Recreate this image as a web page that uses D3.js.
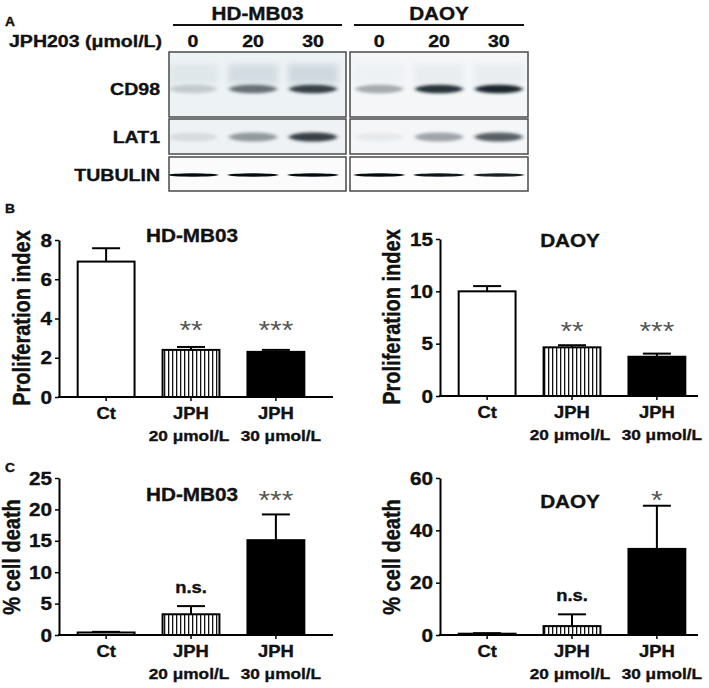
<!DOCTYPE html>
<html><head><meta charset="utf-8">
<script src="https://cdn.jsdelivr.net/npm/d3@7"></script>
<style>
body{margin:0;background:#fff}
text{font-family:"Liberation Sans",Arial,Helvetica,sans-serif;font-weight:bold;fill:#111;stroke:#111;stroke-width:0.35px}
</style>
</head><body>
<svg id="chart" width="709" height="688"></svg>
<script>
// ---------- DATA ----------
const blotLanes = ["0", "20", "30"];
const blotProteins = ["CD98", "LAT1", "TUBULIN"];
const blotCellLines = ["HD-MB03", "DAOY"];
// band intensities (0..1) per lane
const hdCD98 = [0.18, 0.62, 0.85];
const hdCD98Upper = [0.10, 0.20, 0.24];
const hdLAT1 = [0.10, 0.42, 0.85];
const hdTUBULIN = [1.0, 1.0, 1.0];
const daoyCD98 = [0.35, 0.92, 0.98];
const daoyCD98Upper = [0.04, 0.08, 0.08];
const daoyLAT1 = [0.05, 0.38, 0.70];
const daoyTUBULIN = [1.0, 0.95, 0.9];

const barGroups = ["Ct", "JPH 20 μmol/L", "JPH 30 μmol/L"];
const barNames = ["Ct", "JPH", "JPH"];
const barDoses = ["", "20 μmol/L", "30 μmol/L"];

const prolifHD = [6.9, 2.4, 2.3];
const prolifHDErr = [0.68, 0.15, 0.1];
const prolifDAOY = [10.0, 4.65, 3.75];
const prolifDAOYErr = [0.5, 0.2, 0.3];
const deathHD = [0.4, 3.3, 15.1];
const deathHDErr = [0.1, 1.3, 4.1];
const deathDAOY = [0.5, 3.4, 32.9];
const deathDAOYErr = [0.2, 4.5, 16.5];

const sigProlifHD = ["", "**", "***"];
const sigProlifDAOY = ["", "**", "***"];
const sigDeathHD = ["", "n.s.", "***"];
const sigDeathDAOY = ["", "n.s.", "*"];

const ticksProlifHD = [0, 2, 4, 6, 8];
const ticksProlifDAOY = [0, 5, 10, 15];
const ticksDeathHD = [0, 5, 10, 15, 20, 25];
const ticksDeathDAOY = [0, 20, 40, 60];

// ---------- SETUP ----------
const SX = 1.15; // horizontal stretch of the original figure's lettering
const svg = d3.select("#chart");
const defs = svg.append("defs");
defs.append("filter").attr("id", "blurBand").attr("x", "-50%").attr("y", "-200%").attr("width", "200%").attr("height", "500%")
  .append("feGaussianBlur").attr("stdDeviation", "2.2 1.6");
defs.append("filter").attr("id", "blurSmear").attr("x", "-50%").attr("y", "-100%").attr("width", "200%").attr("height", "300%")
  .append("feGaussianBlur").attr("stdDeviation", "3 3");
defs.append("filter").attr("id", "blurThin").attr("x", "-50%").attr("y", "-300%").attr("width", "200%").attr("height", "700%")
  .append("feGaussianBlur").attr("stdDeviation", "1.2 0.6");
const hatch = defs.append("pattern").attr("id", "hatch").attr("patternUnits", "userSpaceOnUse")
  .attr("width", 4).attr("height", 10);
hatch.append("rect").attr("width", 4).attr("height", 10).attr("fill", "#fff");
hatch.append("rect").attr("x", 0).attr("width", 1.3).attr("height", 10).attr("fill", "#111");

function T(sel, x, y, s, size, anchor = "middle") {
  return sel.append("text")
    .attr("transform", `translate(${x},${y}) scale(${SX},1)`)
    .attr("text-anchor", anchor).attr("font-size", size).text(s);
}

// ---------- PANEL A : western blots ----------
const gA = svg.append("g");
T(gA, 5, 26, "A", 12, "start");
T(gA, 162, 47, "JPH203 (μmol/L)", 17, "end");

const rowTop = d3.scaleOrdinal(blotProteins, [52, 119, 157]);
const rowBot = d3.scaleOrdinal(blotProteins, [117, 154, 191]);
const bandY = d3.scaleOrdinal(blotProteins, [89, 137, 175]);
const bandRy = d3.scaleOrdinal(blotProteins, [4.2, 4.5, 1.7]);
const rowBg = d3.scaleOrdinal(blotProteins, ["#edf2f5", "#eef2f4", "#fbfbfb"]);

const groups = [
  {name: "HD-MB03", box: [169, 346], lanes: [169, 337], data: {CD98: hdCD98, LAT1: hdLAT1, TUBULIN: hdTUBULIN}, upper: hdCD98Upper},
  {name: "DAOY", box: [350, 528], lanes: [350, 528], data: {CD98: daoyCD98, LAT1: daoyLAT1, TUBULIN: daoyTUBULIN}, upper: daoyCD98Upper}
];
groups.forEach((grp, gi) => {
  const x = d3.scalePoint().domain(blotLanes).range(grp.lanes).padding(gi === 0 ? 0.4 : 0.49);
  const cx = (grp.box[0] + grp.box[1]) / 2;
  T(gA, cx, 20, blotCellLines[gi], 18);
  gA.append("line").attr("x1", grp.box[0] + 4).attr("x2", grp.box[1] - 4)
    .attr("y1", 25).attr("y2", 25).attr("stroke", "#111").attr("stroke-width", 2);
  blotLanes.forEach(l => T(gA, x(l), 47, l, 17));
  blotProteins.forEach(p => {
    const clip = "clip-" + gi + "-" + p;
    defs.append("clipPath").attr("id", clip).append("rect")
      .attr("x", grp.box[0]).attr("y", rowTop(p)).attr("width", grp.box[1] - grp.box[0]).attr("height", rowBot(p) - rowTop(p));
    const cg = gA.append("g").attr("clip-path", `url(#${clip})`);
    cg.append("rect").attr("x", grp.box[0]).attr("y", rowTop(p))
      .attr("width", grp.box[1] - grp.box[0]).attr("height", rowBot(p) - rowTop(p))
      .attr("fill", gi === 0 ? rowBg(p) : (p === "TUBULIN" ? "#fdfdfd" : "#f4f6f8"));
    if (p === "CD98") {
      cg.selectAll(null).data(grp.upper).join("rect")
        .attr("x", (d, i) => x(blotLanes[i]) - 25).attr("width", 50)
        .attr("y", rowTop(p) + 12).attr("height", 20)
        .attr("fill", "#6f8a99").attr("opacity", d => d).attr("filter", "url(#blurSmear)");
    }
    cg.selectAll(null).data(grp.data[p]).join("ellipse")
      .attr("cx", (d, i) => x(blotLanes[i]))
      .attr("cy", bandY(p))
      .attr("rx", p === "TUBULIN" ? 25 : 24)
      .attr("ry", bandRy(p))
      .attr("fill", p === "TUBULIN" ? "#050a0d" : "#14232b")
      .attr("opacity", d => d)
      .attr("filter", p === "TUBULIN" ? "url(#blurThin)" : "url(#blurBand)");
    gA.append("rect").attr("x", grp.box[0]).attr("y", rowTop(p))
      .attr("width", grp.box[1] - grp.box[0]).attr("height", rowBot(p) - rowTop(p))
      .attr("fill", "none").attr("stroke", "#4a4a4a").attr("stroke-width", 1.5);
  });
});
blotProteins.forEach(p => T(gA, 160, bandY(p) + 6, p, 17, "end"));

// ---------- BAR PANELS ----------
function barPanel(cfg) {
  const g = svg.append("g");
  const y = d3.scaleLinear().domain([0, d3.max(cfg.ticks)]).range([cfg.y0, cfg.y1]);
  const x = d3.scaleBand().domain(barGroups).range([cfg.x0, cfg.x0 + 264])
    .paddingInner(0.33).paddingOuter(0.22);
  const fills = ["#fff", "url(#hatch)", "#000"];

  // bars
  g.selectAll(null).data(cfg.values).join("rect")
    .attr("x", (d, i) => x(barGroups[i]))
    .attr("y", d => y(d))
    .attr("width", x.bandwidth())
    .attr("height", d => y(0) - y(d))
    .attr("fill", (d, i) => fills[i])
    .attr("stroke", "#000").attr("stroke-width", 2);
  // error bars (upward)
  const cap = 14;
  cfg.values.forEach((v, i) => {
    const cx = x(barGroups[i]) + x.bandwidth() / 2;
    g.append("line").attr("x1", cx).attr("x2", cx).attr("y1", y(v)).attr("y2", y(v + cfg.errs[i]))
      .attr("stroke", "#000").attr("stroke-width", 2);
    g.append("line").attr("x1", cx - cap).attr("x2", cx + cap).attr("y1", y(v + cfg.errs[i])).attr("y2", y(v + cfg.errs[i]))
      .attr("stroke", "#000").attr("stroke-width", 2);
  });

  // y axis
  const ay = g.append("g").attr("transform", `translate(${cfg.x0},0)`)
    .call(d3.axisLeft(y).tickValues(cfg.ticks).tickSize(4).tickSizeOuter(0).tickPadding(3));
  ay.select(".domain").attr("stroke-width", 2).attr("stroke", "#000");
  ay.selectAll(".tick line").attr("stroke-width", 1.5).attr("stroke", "#000");
  ay.selectAll(".tick text").remove();
  cfg.ticks.forEach(t => T(g, cfg.x0 - 7, y(t) + 6.5, String(t), 18, "end"));

  // x axis
  g.append("line").attr("x1", cfg.x0 - 1).attr("x2", cfg.x0 + cfg.axisLen).attr("y1", y(0)).attr("y2", y(0))
    .attr("stroke", "#000").attr("stroke-width", 2);
  barGroups.forEach((b, i) => {
    const cx = x(b) + x.bandwidth() / 2;
    g.append("line").attr("x1", cx).attr("x2", cx).attr("y1", y(0)).attr("y2", y(0) + 4)
      .attr("stroke", "#000").attr("stroke-width", 1.5);
    T(g, cx, y(0) + 22, barNames[i], 16);
    if (barDoses[i]) T(g, cx + (i === 1 ? -2 : 5), y(0) + 44, barDoses[i], 15);
  });

  // significance
  cfg.sigs.forEach((s, i) => {
    if (!s) return;
    const cx = x(barGroups[i]) + x.bandwidth() / 2;
    if (s === "n.s.") {
      T(g, cx, y(cfg.values[i] + cfg.errs[i]) - 13, s, 16);
    } else {
      T(g, cx, cfg.starY + 12, s, 26).style("fill", "#555").style("stroke", "none").style("font-weight", "normal");
    }
  });

  // titles
  T(g, cfg.titleX, cfg.titleY, cfg.title, 18);
  g.append("text")
    .attr("transform", `translate(${cfg.labelX},${cfg.labelY}) rotate(-90) scale(1,${SX})`)
    .attr("text-anchor", "middle").attr("dy", "0.36em").attr("font-size", 20).text(cfg.ylabel);
  if (cfg.letter) T(g, cfg.letterX, cfg.letterY, cfg.letter, 12, "start");
}

barPanel({x0: 59, axisLen: 274, y0: 397, y1: 240, values: prolifHD, errs: prolifHDErr, sigs: sigProlifHD,
  ticks: ticksProlifHD, starY: 327, title: "HD-MB03", titleX: 192, titleY: 242,
  ylabel: "Proliferation index", labelX: 22, labelY: 318, letter: "B", letterX: 5, letterY: 213});
barPanel({x0: 440, axisLen: 258, y0: 396, y1: 239, values: prolifDAOY, errs: prolifDAOYErr, sigs: sigProlifDAOY,
  ticks: ticksProlifDAOY, starY: 328, title: "DAOY", titleX: 570, titleY: 247,
  ylabel: "Proliferation index", labelX: 392, labelY: 317});
barPanel({x0: 59, axisLen: 274, y0: 635, y1: 478, values: deathHD, errs: deathHDErr, sigs: sigDeathHD,
  ticks: ticksDeathHD, starY: 497, title: "HD-MB03", titleX: 192, titleY: 501,
  ylabel: "% cell death", labelX: 12, labelY: 557, letter: "C", letterX: 5, letterY: 472});
barPanel({x0: 440, axisLen: 258, y0: 635, y1: 478, values: deathDAOY, errs: deathDAOYErr, sigs: sigDeathDAOY,
  ticks: ticksDeathDAOY, starY: 497, title: "DAOY", titleX: 570, titleY: 508,
  ylabel: "% cell death", labelX: 392, labelY: 557});
</script>
</body></html>
